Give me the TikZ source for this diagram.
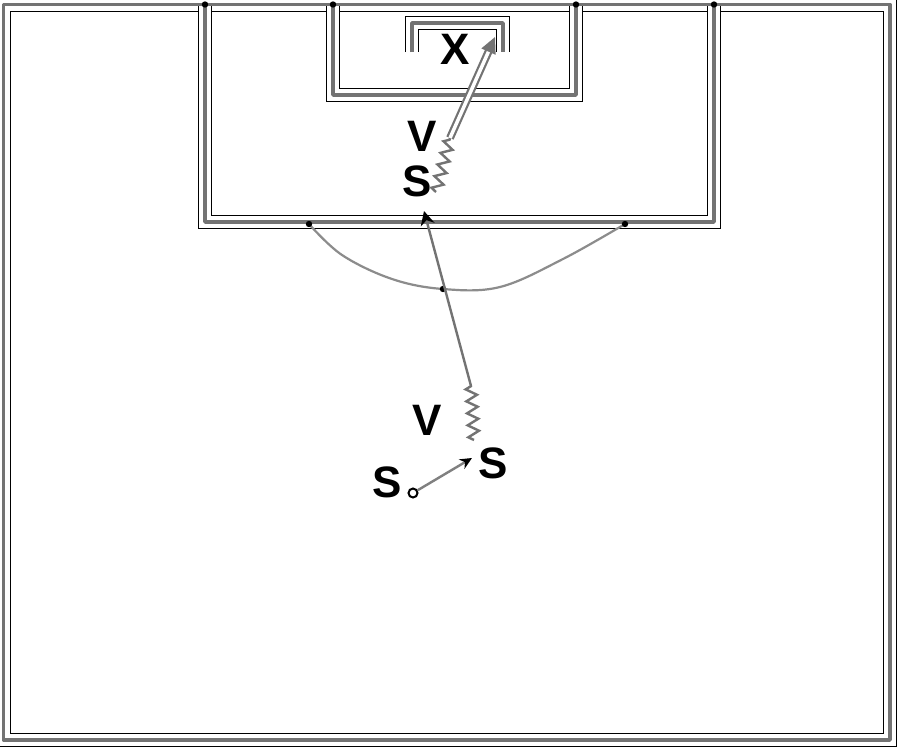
\documentclass[tikz,border=0pt]{standalone}
\usepackage{fontspec}
\setmainfont{Liberation Sans}
\usetikzlibrary{arrows.meta,decorations.pathmorphing}
\begin{document}
\begin{tikzpicture}[x=1pt,y=-1pt,
  companion/.style={draw=black, line width=1.1pt, double=white, double distance=12.5pt, line join=miter},
  fieldline/.style={draw=black!55, line width=3.8pt, line join=round},
  arcline/.style={draw=black!45, line width=2.2pt},
  player/.style={font=\fontsize{44}{44}\selectfont\bfseries, inner sep=0pt},
  ballshape/.style={circle, draw=black, fill=white, line width=2pt, minimum size=9pt, inner sep=0pt},
  run/.style={draw=black!55, line width=2.4pt},
  zig/.style={run, decorate, decoration={zigzag, segment length=12pt, amplitude=5.5pt}},
  passline/.style={draw=black!50, line width=2.4pt, -{Stealth[color=black, length=12pt, width=11pt]}},
  runline/.style={run, -{Stealth[color=black, length=14pt, width=14pt]}},
  shot/.style={draw=black!55, line width=2.2pt, double=white, double distance=3.5pt, -{Triangle[length=16pt, width=15pt]}},
  jdot/.style={fill=black}
]
\useasboundingbox (0,0) rectangle (900,747);
\fill[white] (0,0) rectangle (900,747);

% companion (thin black) lines
\path[companion] (3.5,4.5) rectangle (890,740);
\path[companion] (205,4.5) -- (205,222) -- (714,222) -- (714,4.5);
\path[companion] (333,4.5) -- (333,95) -- (576,95) -- (576,4.5);
\path[companion] (412,52) -- (412,23) -- (503,23) -- (503,52);

% field lines
\draw[fieldline] (3.5,4.5) rectangle (890,740);
\draw[fieldline] (205,4.5) -- (205,222) -- (714,222) -- (714,4.5);
\draw[fieldline] (333,4.5) -- (333,95) -- (576,95) -- (576,4.5);
\draw[fieldline] (412,52) -- (412,23) -- (503,23) -- (503,52);

% penalty arc
\draw[arcline] plot[smooth, tension=0.6] coordinates {(309,224) (342,255) (392,279) (443,289) (500,287) (563,259) (625,224)};

% junction dots
\foreach \p in {(205,4.5),(333,4.5),(576,4.5),(714,4.5),(309,224),(625,224),(443,289)}
  \fill[jdot] \p circle (3.2);

% players
\node[player] (gk) at (455.5,49.5) {X};
\node[player] (v1) at (422,136) {V};
\node[player] (s1) at (417,181) {S};
\node[player] (v2) at (427,420) {V};
\node[player] (s2) at (493,463) {S};
\node[player] (s3) at (387,482) {S};
\node[ballshape] (ball) at (413,493) {};

% connector end points
\coordinate (passend) at (472,458);
\coordinate (dribAstart) at (474,440);
\coordinate (dribAend) at (471,386);
\coordinate (runend) at (424,211);
\coordinate (dribBstart) at (436,192);
\coordinate (dribBend) at (450,138);
\coordinate (shotend) at (495,37);

% pass
\draw[passline] (ball) -- (passend);
% dribble and run
\draw[zig] (dribAstart) -- (dribAend);
\draw[runline] (dribAend) -- (runend);
% dribble and shot
\draw[zig] (dribBstart) -- (dribBend);
\draw[shot] (dribBend) -- (shotend);
\end{tikzpicture}
\end{document}
